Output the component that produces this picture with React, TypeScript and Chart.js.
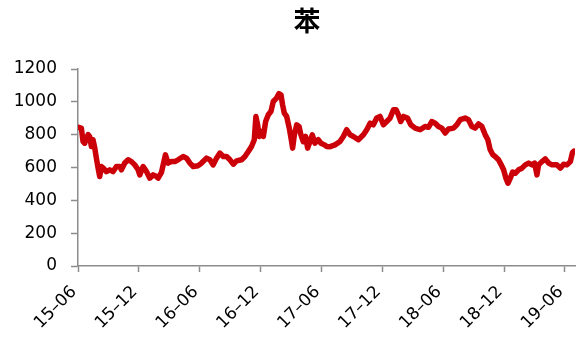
import React, { useEffect, useRef } from 'react';
import { Chart, registerables } from 'chart.js';

Chart.register(...registerables);

const chartTitle = '苯';
const xTickLabels = ['15–06', '15–12', '16–06', '16–12', '17–06', '17–12', '18–06', '18–12', '19–06'];
const yMin = 0;
const yMax = 1200;
const yStep = 200;

// months since 2015-06
const monthOffsets = [
  0.0, 0.33, 0.5, 0.66, 0.99, 1.15, 1.32, 1.48, 1.65, 1.81, 1.98, 2.14, 2.31, 2.47, 2.8, 3.13, 3.46, 3.79,
  4.12, 4.28, 4.61, 4.94, 5.27, 5.6, 5.93, 6.09, 6.42, 6.75, 7.08, 7.41, 7.74, 7.9, 8.23, 8.62, 8.89, 9.22,
  9.55, 9.87, 10.37, 10.7, 11.03, 11.36, 11.85, 12.18, 12.67, 13.0, 13.33, 13.66, 13.99, 14.32, 14.65, 14.98,
  15.31, 15.63, 16.13, 16.46, 16.79, 17.11, 17.38, 17.54, 17.71, 17.87, 18.04, 18.27, 18.5, 18.76, 19.02,
  19.25, 19.58, 19.81, 20.01, 20.17, 20.34, 20.57, 20.83, 21.06, 21.16, 21.33, 21.56, 21.79, 21.98, 22.21,
  22.44, 22.64, 22.87, 23.1, 23.36, 23.69, 23.96, 24.29, 24.52, 24.85, 25.34, 25.83, 26.16, 26.49, 26.82,
  27.15, 27.64, 28.14, 28.47, 28.8, 29.12, 29.45, 29.78, 30.11, 30.44, 30.77, 31.1, 31.36, 31.59, 31.82,
  32.09, 32.48, 32.81, 33.24, 33.73, 34.22, 34.55, 34.88, 35.21, 35.54, 35.87, 36.2, 36.53, 37.02, 37.35,
  37.68, 38.17, 38.5, 38.83, 39.16, 39.49, 39.82, 40.15, 40.41, 40.64, 40.9, 41.13, 41.46, 41.73, 41.96,
  42.19, 42.39, 42.62, 42.85, 43.11, 43.44, 43.77, 44.1, 44.43, 44.76, 45.02, 45.25, 45.41, 45.74, 46.07,
  46.4, 46.73, 47.22, 47.55, 47.88, 48.21, 48.54, 48.75, 48.9,
];

const benzenePrices = [
  845, 840, 758, 748, 800, 789, 728, 769, 720, 657, 596, 545, 606, 598, 575, 586, 575, 606,
  606, 586, 627, 647, 636, 616, 586, 555, 606, 575, 535, 555, 545, 535, 570, 677, 627, 636,
  636, 647, 667, 657, 627, 606, 611, 627, 657, 647, 616, 657, 688, 667, 667, 647,
  620, 640, 647, 667, 697, 728, 769, 911, 860, 789, 820, 789, 880, 921, 941,
  1002, 1023, 1050, 1043, 982, 931, 911, 840, 758, 718, 799, 860, 850, 799, 758,
  789, 718, 758, 799, 748, 769, 748, 738, 728, 727, 738, 758, 789, 830, 799,
  789, 769, 799, 830, 870, 860, 901, 911, 860, 880, 901, 952, 952, 921, 880,
  911, 901, 860, 840, 830, 850, 845, 880, 870, 850, 840, 810, 835, 840, 860,
  891, 901, 891, 850, 840, 865, 850, 799, 769, 708, 677, 667, 647, 616, 586,
  535, 504, 535, 572, 565, 586, 596, 616, 627, 616, 627, 555, 616, 636, 652,
  627, 616, 616, 596, 620, 616, 636, 690, 700,
];

const axisGray = '#8c8c8c';
const lineRed = '#cc0008';

const titlePlugin = {
  id: 'offsetTitle',
  afterDraw(chart: any) {
    const ctx = chart.ctx;
    ctx.save();
    ctx.font = 'bold 27px "Noto Sans CJK SC"';
    ctx.fillStyle = '#000';
    ctx.textAlign = 'center';
    ctx.textBaseline = 'middle';
    ctx.fillText(chartTitle, 307, 21);
    ctx.restore();
  },
};

export default function App() {
  const canvasRef = useRef<HTMLCanvasElement>(null);

  useEffect(() => {
    if (!canvasRef.current) return;
    const points = monthOffsets.map((m, i) => ({ x: m, y: benzenePrices[i] }));
    const chart = new Chart(canvasRef.current, {
      type: 'line',
      data: {
        datasets: [
          {
            data: points,
            borderColor: lineRed,
            backgroundColor: lineRed,
            borderWidth: 5.5,
            pointRadius: 0,
            tension: 0,
            borderJoinStyle: 'round',
            borderCapStyle: 'round',
          },
        ],
      },
      options: {
        responsive: false,
        animation: false,
        layout: { padding: { left: 0, right: 3, top: 69, bottom: 0 } },
        plugins: {
          legend: { display: false },
          tooltip: { enabled: false },
          title: { display: false },
        },
        scales: {
          x: {
            type: 'linear',
            min: 0,
            max: 49,
            afterBuildTicks: (scale: any) => {
              scale.ticks = xTickLabels.map((_, i) => ({ value: i * 6 }));
            },
            afterFit: (scale: any) => {
              scale.height = 71;
              scale.paddingLeft = 0;
              scale.paddingRight = 0;
            },
            ticks: {
              autoSkip: false,
              maxRotation: 45,
              minRotation: 45,
              padding: 10,
              labelOffset: -4,
              color: '#000',
              font: { family: '"DejaVu Sans"', size: 17 },
              callback: (v: any) => xTickLabels[Math.round(Number(v) / 6)] ?? '',
            },
            grid: {
              display: true,
              drawOnChartArea: false,
              drawTicks: true,
              tickLength: 6,
              tickColor: axisGray,
              tickWidth: 1.5,
            },
            border: { display: true, color: axisGray, width: 1.5 },
          },
          y: {
            min: yMin,
            max: yMax,
            afterFit: (scale: any) => {
              scale.width = 78;
              scale.paddingTop = 0;
              scale.paddingBottom = 0;
            },
            ticks: {
              stepSize: yStep,
              padding: 14,
              color: '#000',
              font: { family: '"DejaVu Sans"', size: 17 },
              callback: (v: any) => String(v),
            },
            grid: {
              display: true,
              drawOnChartArea: false,
              drawTicks: true,
              tickLength: 7,
              tickColor: axisGray,
              tickWidth: 1.5,
            },
            border: { display: true, color: axisGray, width: 1.5 },
          },
        },
      },
      plugins: [titlePlugin],
    } as any);
    return () => chart.destroy();
  }, []);

  return (
    <div style={{ position: 'fixed', left: 0, top: 0, width: 578, height: 337, background: '#fff' }}>
      <canvas ref={canvasRef} width={578} height={337} style={{ display: 'block' }} />
    </div>
  );
}
